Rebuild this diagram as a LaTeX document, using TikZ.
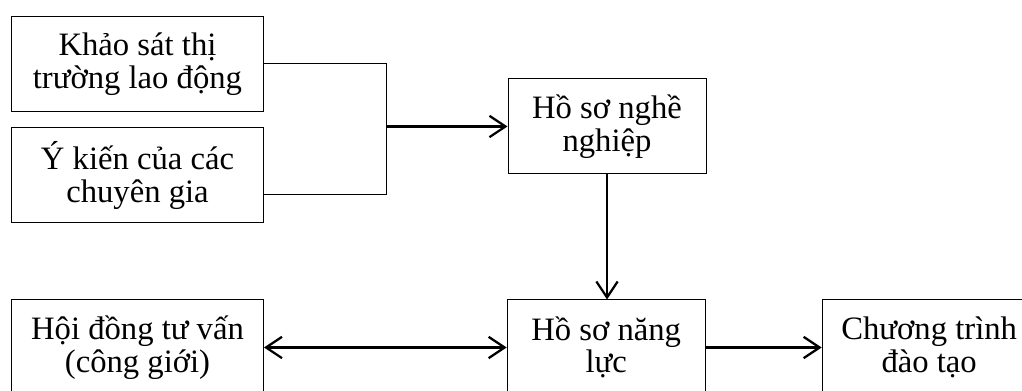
\documentclass[tikz,border=0pt]{standalone}
\usepackage{fontspec}
\setmainfont{Liberation Serif}
\usetikzlibrary{arrows.meta, positioning}
\tikzset{
    block/.style={rectangle, draw, line width=0.75pt, align=center, minimum height=71.25pt, inner sep=0pt, font=\fontsize{24.5}{24.4}\selectfont},
    arrow/.style={line width=1.7pt, -{Straight Barb[length=12pt, width=16pt]}},
    biarrow/.style={line width=1.7pt, {Straight Barb[length=12pt, width=16pt]}-{Straight Barb[length=12pt, width=16pt]}},
    link/.style={line width=0.75pt}
}

\begin{document}
\begin{tikzpicture}[x=0.75pt, y=-0.75pt, node distance=11.6pt]
    \useasboundingbox (0,0) rectangle (1022,391);
    \clip (0,0) rectangle (1022,391);
    \node[block, minimum width=189pt] (survey) at (137.5,64) {Khảo sát thị\\trường lao động};
    \node[block, minimum width=189pt, below=of survey] (expert) {Ý kiến của các\\chuyên gia};
    \node[block, minimum width=148.5pt] (career) at (607,126.5) {Hồ sơ nghề\\nghiệp};
    \node[block, minimum width=189pt] (council) at (137.5,347.5) {Hội đồng tư vấn\\(công giới)};
    \node[block, minimum width=148.5pt, right=182pt of council] (competency) {Hồ sơ năng\\lực};
    \node[block, minimum width=160.5pt, right=87pt of competency] (program) {Chương trình\\đào tạo};

    \coordinate (join) at (386,126.5);
    \draw[link] (survey.east) -| (join);
    \draw[link] ([yshift=-14.6pt]expert.east) -| (join);
    \draw[arrow] (join) -- (career);
    \draw[arrow] (career.south) -- (career.south |- competency.north);
    \draw[biarrow] (council) -- (competency);
    \draw[arrow] (competency) -- (program);
\end{tikzpicture}
\end{document}
